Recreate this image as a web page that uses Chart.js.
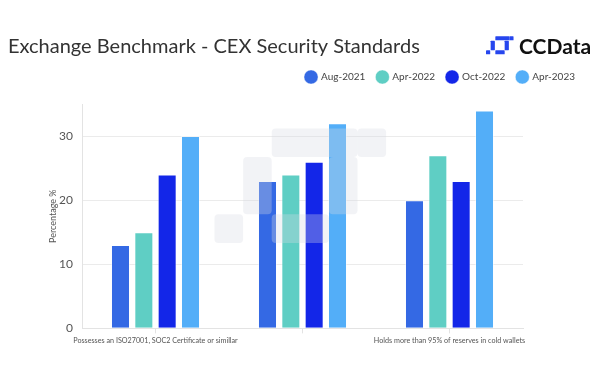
<!DOCTYPE html>
<html lang="en">
  <head>
    <meta charset="UTF-8" />
    <title>CEX Security Standards</title>
    <style>
      body { margin: 0; background: #fff; }
      #wrap { position: relative; width: 600px; height: 369px; }
      #logo { position: absolute; left: 486px; top: 33px; display: flex; align-items: center; gap: 5px; }
      #logo span { font-family: Lato, sans-serif; font-weight: 700; font-size: 21px; color: #111; }
    </style>
  </head>
  <body>
    <div id="wrap">
      <canvas id="myChart" width="600" height="369"></canvas>
      <div id="logo">
        <svg width="28" height="19" viewBox="0 0 6 4">
          <g fill="#2646ee">
            <rect x="0" y="3" width="0.9" height="0.9" rx="0.1" />
            <rect x="1" y="1" width="0.9" height="2" rx="0.1" />
            <rect x="2" y="0" width="3" height="0.9" rx="0.1" />
            <rect x="4" y="1" width="0.9" height="2" rx="0.1" />
            <rect x="2" y="3" width="2" height="0.9" rx="0.1" />
            <rect x="5" y="0" width="0.9" height="0.9" rx="0.1" />
          </g>
        </svg>
        <span>CCData</span>
      </div>
    </div>

    <script src="https://cdn.jsdelivr.net/npm/chart.js@4.4.0/dist/chart.umd.min.js"></script>
    <script>
      const categories = [
        "Possesses an ISO27001, SOC2 Certificate or simillar",
        "Publishes a Proof of Reserves",
        "Holds more than 95% of reserves in cold wallets",
      ];
      const seriesNames = ["Aug-2021", "Apr-2022", "Oct-2022", "Apr-2023"];
      const aug2021 = [13, 23, 20];
      const apr2022 = [15, 24, 27];
      const oct2022 = [24, 26, 23];
      const apr2023 = [30, 32, 34];
      const yTicks = [0, 10, 20, 30];
      const colors = ["#3469e4", "#5fcec4", "#1326e8", "#53aef8"];

      // faint logo watermark drawn over the bars
      const watermark = {
        id: "watermark",
        afterDatasetsDraw(chart) {
          const ctx = chart.ctx;
          const u = 28.6, x0 = 214.5, y0 = 128.5;
          const cells = [[0, 3, 1, 1], [1, 1, 1, 2], [2, 0, 3, 1], [4, 1, 1, 2], [2, 3, 2, 1], [5, 0, 1, 1]];
          ctx.save();
          ctx.fillStyle = "rgba(214,219,228,0.32)";
          cells.forEach(([c, r, w, h]) => {
            ctx.beginPath();
            ctx.roundRect(x0 + c * u, y0 + r * u, w * u, h * u, 4);
            ctx.fill();
          });
          ctx.restore();
        },
      };

      // extra room under the legend
      const legendGap = {
        id: "legendGap",
        beforeInit(chart) {
          const fit = chart.legend.fit;
          chart.legend.fit = function () {
            fit.bind(chart.legend)();
            this.height += 12;
          };
        },
      };

      const series = [aug2021, apr2022, oct2022, apr2023];
      const ctx = document.getElementById("myChart").getContext("2d");
      const myChart = new Chart(ctx, {
        type: "bar",
        data: {
          labels: categories,
          datasets: series.map((data, i) => ({
            label: seriesNames[i],
            data: data,
            backgroundColor: colors[i],
            borderColor: "rgba(255,255,255,0.45)",
            borderWidth: 1,
            categoryPercentage: 0.635,
            barPercentage: 0.815,
          })),
        },
        plugins: [watermark, legendGap],
        options: {
          responsive: false,
          animation: false,
          layout: { padding: { left: 8, right: 13, top: 0, bottom: 21 } },
          plugins: {
            title: {
              display: true,
              text: "Exchange Benchmark - CEX Security Standards",
              align: "start",
              color: "#333",
              font: { family: "Lato", size: 20, weight: "normal" },
              padding: { top: 35, bottom: 1 },
            },
            legend: {
              align: "end",
              labels: {
                usePointStyle: true,
                pointStyle: "circle",
                boxWidth: 10,
                boxHeight: 10,
                color: "#444",
                font: { family: "Lato", size: 10 },
                padding: 12,
              },
            },
            tooltip: { enabled: false },
          },
          scales: {
            x: {
              grid: { drawOnChartArea: false, offset: false, tickLength: 5, color: "#e3e3e3" },
              border: { color: "#e3e3e3" },
              ticks: {
                maxRotation: 0,
                autoSkip: false,
                color: "#555",
                font: { family: "Lato", size: 7.2 },
                padding: 3,
                callback: (v, i) => (i === 1 ? "" : categories[i]),
              },
            },
            y: {
              min: 0,
              max: 35,
              afterBuildTicks: (scale) => {
                scale.ticks = yTicks.map((v) => ({ value: v }));
              },
              afterFit: (scale) => {
                scale.width = 74;
              },
              grid: { color: "#ebebeb", drawTicks: false },
              border: { color: "#e3e3e3" },
              ticks: { color: "#555", font: { family: "Lato", size: 12 }, padding: 9 },
              title: {
                display: true,
                text: "Percentage %",
                color: "#555",
                font: { family: "Lato", size: 9 },
                padding: { top: 40, bottom: 4 },
              },
            },
            yR: {
              position: "right",
              afterFit: (scale) => {
                scale.width = 64;
              },
              grid: { display: false },
              border: { display: false },
              ticks: { display: false },
            },
          },
        },
      });
    </script>
  </body>
</html>
